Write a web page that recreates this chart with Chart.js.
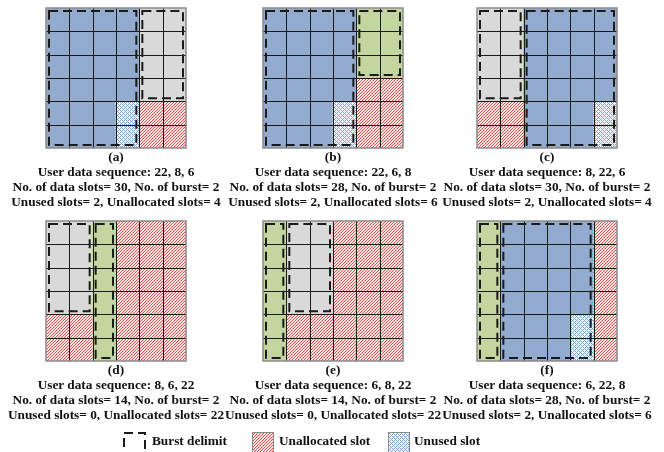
<!DOCTYPE html>
<html>
<head>
<meta charset="utf-8">
<script src="https://cdn.jsdelivr.net/npm/chart.js@4.4.1/dist/chart.umd.min.js"></script>
<style>
  html, body { margin: 0; padding: 0; background: #fff; }
  body { width: 664px; height: 452px; position: relative; overflow: hidden; }
  .panel { position: absolute; }
  .caption {
    position: absolute; width: 240px; text-align: center;
    font: bold 13.3px "Liberation Serif", "Times New Roman", serif;
    line-height: 15px; color: #111; white-space: nowrap;
  }
  .legend-text {
    position: absolute; font: bold 13.3px "Liberation Serif", "Times New Roman", serif;
    line-height: 15px; color: #111; white-space: nowrap;
  }
  .legend-icon { position: absolute; }
</style>
</head>
<body>
<script>
// ---- Allocation scenarios -------------------------------------------------
const panelLabels = ['(a)', '(b)', '(c)', '(d)', '(e)', '(f)'];
const userSequences = ['22, 8, 6', '22, 6, 8', '8, 22, 6', '8, 6, 22', '6, 8, 22', '6, 22, 8'];
const dataSlotCounts = [30, 28, 30, 14, 14, 28];
const burstCounts = [2, 2, 2, 2, 2, 2];
const unusedSlotCounts = [2, 2, 2, 0, 0, 2];
const unallocatedSlotCounts = [4, 6, 4, 22, 22, 6];

// Slot maps: one string per row (top to bottom), one letter per column.
// B = 22-slot user, G = 8-slot user, V = 6-slot user, U = unused, R = unallocated
const slotMapA = ['BBBBGG', 'BBBBGG', 'BBBBGG', 'BBBBGG', 'BBBURR', 'BBBURR'];
const slotMapB = ['BBBBVV', 'BBBBVV', 'BBBBVV', 'BBBBRR', 'BBBURR', 'BBBURR'];
const slotMapC = ['GGBBBB', 'GGBBBB', 'GGBBBB', 'GGBBBB', 'RRBBBU', 'RRBBBU'];
const slotMapD = ['GGVRRR', 'GGVRRR', 'GGVRRR', 'GGVRRR', 'RRVRRR', 'RRVRRR'];
const slotMapE = ['VGGRRR', 'VGGRRR', 'VGGRRR', 'VGGRRR', 'VRRRRR', 'VRRRRR'];
const slotMapF = ['VBBBBR', 'VBBBBR', 'VBBBBR', 'VBBBBR', 'VBBBUR', 'VBBBUR'];
const slotMaps = [slotMapA, slotMapB, slotMapC, slotMapD, slotMapE, slotMapF];

// Bursts as [firstColumn, firstRow, lastColumn, lastRow] in slot indices
const burstsA = [[0, 0, 3, 5], [4, 0, 5, 3]];
const burstsB = [[0, 0, 3, 5], [4, 0, 5, 2]];
const burstsC = [[0, 0, 1, 3], [2, 0, 5, 5]];
const burstsD = [[0, 0, 1, 3], [2, 0, 2, 5]];
const burstsE = [[0, 0, 0, 5], [1, 0, 2, 3]];
const burstsF = [[0, 0, 0, 5], [1, 0, 4, 5]];
const burstSets = [burstsA, burstsB, burstsC, burstsD, burstsE, burstsF];

const columnLabels = ['1', '2', '3', '4', '5', '6'];

// ---- Fill styles ------------------------------------------------------------
function makeTile(size, bg, fg, isInk) {
  const c = document.createElement('canvas');
  c.width = size; c.height = size;
  const g = c.getContext('2d');
  g.fillStyle = bg; g.fillRect(0, 0, size, size);
  g.fillStyle = fg;
  for (let x = 0; x < size; x++) for (let y = 0; y < size; y++) if (isInk(x, y)) g.fillRect(x, y, 1, 1);
  return c;
}
const hatchTile = makeTile(3, '#fde2e2', '#e65454', (x, y) => x + y === 2);
const dotTile = makeTile(4, '#f3f6fc', '#82a5de', (x, y) => (x + y) % 4 === 0 || (x - y + 4) % 4 === 0);
const patCtx = document.createElement('canvas').getContext('2d');
const fills = {
  B: '#93abce',
  G: '#d9d9d9',
  V: '#c4d6a0',
  R: patCtx.createPattern(hatchTile, 'repeat'),
  U: patCtx.createPattern(dotTile, 'repeat')
};

// ---- Grid lines, outline and burst outlines drawn over the slots ------------
const slotGridPlugin = {
  id: 'slotGrid',
  afterDatasetsDraw(chart, args, opts) {
    const { ctx, scales: { x, y } } = chart;
    const left = x.getPixelForValue(-0.5), right = x.getPixelForValue(columnLabels.length - 0.5);
    const top = y.getPixelForValue(6), bottom = y.getPixelForValue(0);
    ctx.save();
    ctx.strokeStyle = '#1a1a1a';
    ctx.lineWidth = 1;
    ctx.beginPath();
    for (let c = 1; c < columnLabels.length; c++) {
      const px = Math.round(x.getPixelForValue(c - 0.5)) + 0.5;
      ctx.moveTo(px, top); ctx.lineTo(px, bottom);
    }
    for (let r = 1; r < 6; r++) {
      const py = Math.round(y.getPixelForValue(r)) + 0.5;
      ctx.moveTo(left, py); ctx.lineTo(right, py);
    }
    ctx.stroke();
    ctx.strokeStyle = '#8a8a8a';
    ctx.lineWidth = 1.5;
    ctx.strokeRect(left, top, right - left, bottom - top);

    ctx.strokeStyle = '#1a1a1a';
    ctx.lineWidth = 2;
    ctx.setLineDash([9, 5]);
    const inset = 3;
    opts.bursts.forEach(([c0, r0, c1, r1]) => {
      const bx0 = x.getPixelForValue(c0 - 0.5) + inset;
      const bx1 = x.getPixelForValue(c1 + 0.5) - inset;
      const by0 = y.getPixelForValue(6 - r0) + inset;
      const by1 = y.getPixelForValue(6 - r1 - 1) - inset;
      ctx.strokeRect(bx0, by0, bx1 - bx0, by1 - by0);
    });
    ctx.restore();
  }
};

// ---- Layout ------------------------------------------------------------------
const gridLefts = [46, 263, 477];
const gridTops = [8, 221];
const gridSize = 140;
const pad = 3;

slotMaps.forEach((map, p) => {
  const gx = gridLefts[p % 3], gy = gridTops[Math.floor(p / 3)];
  const canvas = document.createElement('canvas');
  canvas.className = 'panel';
  canvas.width = gridSize + 2 * pad; canvas.height = gridSize + 2 * pad;
  canvas.style.left = (gx - pad) + 'px'; canvas.style.top = (gy - pad) + 'px';
  canvas.style.width = canvas.width + 'px'; canvas.style.height = canvas.height + 'px';
  document.body.appendChild(canvas);

  // rows stacked bottom-up: dataset 0 is the bottom row of slots
  const datasets = map.slice().reverse().map((row, i) => ({
    label: 'row ' + (6 - i),
    data: row.split('').map(() => 1),
    backgroundColor: row.split('').map(k => fills[k]),
    borderWidth: 0,
    barPercentage: 1,
    categoryPercentage: 1
  }));

  new Chart(canvas, {
    type: 'bar',
    data: { labels: columnLabels, datasets },
    options: {
      responsive: false,
      devicePixelRatio: 1,
      animation: false,
      events: [],
      layout: { padding: pad },
      plugins: { legend: { display: false }, tooltip: { enabled: false }, slotGrid: { bursts: burstSets[p] } },
      scales: {
        x: { display: false, stacked: true, offset: true },
        y: { display: false, stacked: true, min: 0, max: 6 }
      }
    },
    plugins: [slotGridPlugin]
  });

  const cap = document.createElement('div');
  cap.className = 'caption';
  cap.style.left = (gx + gridSize / 2 - 120) + 'px';
  cap.style.top = (gy + gridSize + 0.5) + 'px';
  cap.innerHTML = [
    panelLabels[p],
    'User data sequence: ' + userSequences[p],
    'No. of data slots= ' + dataSlotCounts[p] + ', No. of burst= ' + burstCounts[p],
    'Unused slots= ' + unusedSlotCounts[p] + ', Unallocated slots= ' + unallocatedSlotCounts[p]
  ].join('<br>');
  document.body.appendChild(cap);
});

// ---- Key -----------------------------------------------------------------------
function legendIcon(left, draw) {
  const c = document.createElement('canvas');
  c.className = 'legend-icon';
  c.width = 24; c.height = 24;
  c.style.left = left + 'px'; c.style.top = '431px';
  document.body.appendChild(c);
  draw(c.getContext('2d'));
}
function legendText(left, text) {
  const d = document.createElement('div');
  d.className = 'legend-text';
  d.style.left = left + 'px'; d.style.top = '433px';
  d.textContent = text;
  document.body.appendChild(d);
}
legendIcon(122, g => {
  g.strokeStyle = '#1a1a1a'; g.lineWidth = 2; g.setLineDash([9, 5]);
  g.strokeRect(2, 2, 21, 21);
});
legendText(152, 'Burst delimit');
legendIcon(251, g => {
  g.fillStyle = fills.R; g.fillRect(1, 1, 22, 22);
  g.strokeStyle = '#8a8a8a'; g.lineWidth = 1; g.strokeRect(1.5, 1.5, 21, 21);
});
legendText(279, 'Unallocated slot');
legendIcon(387, g => {
  g.fillStyle = fills.U; g.fillRect(1, 1, 22, 22);
  g.strokeStyle = '#8a8a8a'; g.lineWidth = 1; g.strokeRect(1.5, 1.5, 21, 21);
});
legendText(414, 'Unused slot');
</script>
</body>
</html>
